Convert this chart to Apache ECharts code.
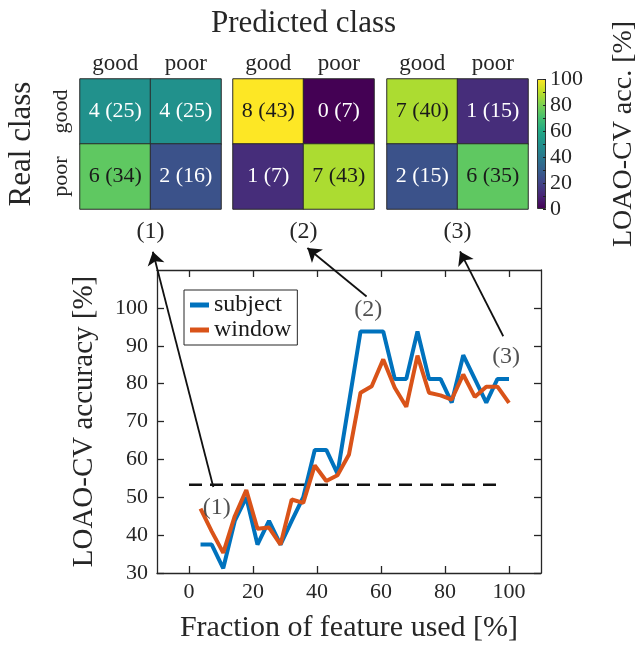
<!DOCTYPE html>
<html>
<head>
<meta charset="utf-8">
<script src="https://cdn.jsdelivr.net/npm/echarts@6/dist/echarts.min.js"></script>
<style>html,body{margin:0;padding:0;background:#fff}#c{width:639px;height:645px}</style>
</head>
<body>
<div id="c"></div>
<script>
// ---------- data ----------
const predClasses = ['good', 'poor'];
const realClasses = ['good', 'poor'];
const matrixNames = ['(1)', '(2)', '(3)'];
// order: [real good/pred good, real good/pred poor, real poor/pred good, real poor/pred poor]
const matrixCounts = [[4, 4, 6, 2], [8, 0, 1, 7], [7, 1, 2, 6]];
const matrixPercents = [[25, 25, 34, 16], [43, 7, 7, 43], [40, 15, 15, 35]];
const subjectsPerClass = 8;

const featureFraction = [3.6, 7.1, 10.7, 14.3, 17.9, 21.4, 25.0, 28.6, 32.1, 35.7, 39.3, 42.9, 46.4, 50.0,
  53.6, 57.1, 60.7, 64.3, 67.9, 71.4, 75.0, 78.6, 82.1, 85.7, 89.3, 92.9, 96.4, 100];
const subjectAcc = [37.5, 37.5, 31.25, 43.75, 50, 37.5, 43.75, 37.5, 43.75, 50, 62.5, 62.5, 56.25, 75,
  93.75, 93.75, 93.75, 81.25, 81.25, 93.75, 81.25, 81.25, 75, 87.5, 81.25, 75, 81.25, 81.25];
const windowAcc = [47.0, 41.0, 35.3, 45.0, 51.9, 41.7, 42.0, 37.5, 49.4, 48.5, 58.4, 54.3, 55.8, 61.3,
  77.6, 79.3, 86.4, 78.9, 73.9, 87.4, 77.6, 76.9, 75.8, 82.4, 76.5, 79.2, 79.2, 74.9];
const chanceX = [0, 97];
const chanceLevel = 53.3;

const annotLabels = ['(1)', '(2)', '(3)'];
const annotX = [8.7, 56.0, 99.1];
const annotY = [47.2, 99.6, 87.1];
const arrowFrom = [[7.6, 52.7], [55.5, 103.0], [98.2, 92.5]];
const arrowTo = [[-11.3, 114.8], [37.0, 115.8], [84.7, 114.9]];

const xTicks = [0, 20, 40, 60, 80, 100];
const yTicks = [30, 40, 50, 60, 70, 80, 90, 100];
const cbLabels = [0, 20, 40, 60, 80, 100];
const cbTicks = [0, 10, 20, 30, 40, 50, 60, 70, 80, 90, 100];

// ---------- styles ----------
const FONT = 'Liberation Serif';
const INK = '#262626';
const viridis = ['#440154', '#482576', '#414487', '#355f8d', '#2a788e', '#21918c', '#22a884', '#44bf70', '#7ad151', '#bddf26', '#fde725'];

const chart = echarts.init(document.getElementById('c'), null, {renderer: 'canvas'});

const grids = [];
const xAxes = [];
const yAxes = [];
const series = [];
const hmLeft = [80, 233, 387];

for (let i = 0; i < 3; i++) {
  grids.push({left: hmLeft[i], top: 79, width: 141, height: 130});
  xAxes.push({
    gridIndex: i, type: 'category', data: predClasses, position: 'top',
    axisLine: {show: false}, axisTick: {show: false},
    axisLabel: {fontSize: 23, margin: 4, color: INK, fontFamily: FONT},
    name: i === 1 ? 'Predicted class' : '', nameLocation: 'middle', nameGap: 40,
    nameTextStyle: {fontSize: 31, color: INK, fontFamily: FONT}
  });
  yAxes.push({
    gridIndex: i, type: 'category', data: realClasses, inverse: true,
    axisLine: {show: false}, axisTick: {show: false},
    axisLabel: {show: i === 0, rotate: 90, fontSize: 22, margin: 8, color: INK, fontFamily: FONT},
    name: i === 0 ? 'Real class' : '', nameLocation: 'middle', nameRotate: 90, nameGap: 43,
    nameTextStyle: {fontSize: 31, color: INK, fontFamily: FONT}
  });
}
for (let i = 0; i < 3; i++) {
  xAxes.push({
    gridIndex: i, type: 'category', data: predClasses, position: 'bottom',
    axisLine: {show: false}, axisTick: {show: false}, axisLabel: {show: false},
    name: matrixNames[i], nameLocation: 'middle', nameGap: 11,
    nameTextStyle: {fontSize: 24, color: INK, fontFamily: FONT, verticalAlign: 'top'}
  });
}
for (let i = 0; i < 3; i++) {
  const data = [];
  for (let r = 0; r < 2; r++) {
    for (let c = 0; c < 2; c++) {
      const k = r * 2 + c;
      const v = matrixCounts[i][k] / subjectsPerClass * 100;
      data.push({
        value: [c, r, v],
        label: {color: v >= 70 ? '#1a1a1a' : '#ffffff'}
      });
    }
  }
  series.push({
    type: 'heatmap', xAxisIndex: i, yAxisIndex: i, data: data,
    itemStyle: {borderColor: '#2b2b2b', borderWidth: 1},
    label: {
      show: true, fontSize: 22, fontFamily: FONT,
      formatter: (p) => {
        const k = p.value[1] * 2 + p.value[0];
        return matrixCounts[i][k] + ' (' + matrixPercents[i][k] + ')';
      }
    },
    emphasis: {disabled: true}, silent: true
  });
}

// colorbar grid (index 3)
grids.push({left: 537, top: 79, width: 14, height: 130});
const cbX = xAxes.length;
xAxes.push({gridIndex: 3, type: 'category', data: [''], show: false});
const cbY = yAxes.length;
yAxes.push({
  gridIndex: 3, type: 'value', min: 0, max: 100, position: 'right', z: 10,
  axisLine: {show: false},
  axisTick: {show: true, inside: true, length: 3, customValues: cbTicks, lineStyle: {color: '#222', width: 1}},
  axisLabel: {customValues: cbLabels, fontSize: 22, margin: 4, color: INK, fontFamily: FONT},
  splitLine: {show: false},
  name: 'LOAO-CV acc. [%]', nameLocation: 'middle', nameRotate: 90, nameGap: 64,
  nameTextStyle: {fontSize: 28, color: INK, fontFamily: FONT, padding: [0, 0, 0, 20]}
});
series.push({
  type: 'bar', xAxisIndex: cbX, yAxisIndex: cbY, data: [100], barWidth: '100%', silent: true,
  itemStyle: {
    borderColor: '#333', borderWidth: 1,
    color: new echarts.graphic.LinearGradient(0, 1, 0, 0,
      viridis.map((c, j) => ({offset: j / (viridis.length - 1), color: c})))
  }
});

// line chart grid (index 4)
grids.push({left: 157, top: 270, width: 384, height: 303});
const axisLineStyle = {color: INK, width: 1.3};
const lx = xAxes.length;
xAxes.push({
  gridIndex: 4, type: 'value', min: -10, max: 110, position: 'bottom',
  axisLine: {show: true, onZero: false, lineStyle: axisLineStyle},
  axisTick: {show: true, inside: true, length: 7, customValues: xTicks, lineStyle: axisLineStyle},
  axisLabel: {customValues: xTicks, fontSize: 22, margin: 8, color: INK, fontFamily: FONT},
  splitLine: {show: false},
  name: 'Fraction of feature used [%]', nameLocation: 'middle', nameGap: 40,
  nameTextStyle: {fontSize: 30, color: INK, fontFamily: FONT}
});
xAxes.push({
  gridIndex: 4, type: 'value', min: -10, max: 110, position: 'top',
  axisLine: {show: true, onZero: false, lineStyle: axisLineStyle},
  axisTick: {show: true, inside: true, length: 7, customValues: xTicks, lineStyle: axisLineStyle},
  axisLabel: {show: false}, splitLine: {show: false}
});
const ly = yAxes.length;
yAxes.push({
  gridIndex: 4, type: 'value', min: 30, max: 110, position: 'left',
  axisLine: {show: true, onZero: false, lineStyle: axisLineStyle},
  axisTick: {show: true, inside: true, length: 7, customValues: yTicks, lineStyle: axisLineStyle},
  axisLabel: {customValues: yTicks, fontSize: 22, margin: 9, color: INK, fontFamily: FONT},
  splitLine: {show: false},
  name: 'LOAO-CV accuracy [%]', nameLocation: 'middle', nameRotate: 90, nameGap: 58,
  nameTextStyle: {fontSize: 29, color: INK, fontFamily: FONT}
});
yAxes.push({
  gridIndex: 4, type: 'value', min: 30, max: 110, position: 'right',
  axisLine: {show: true, onZero: false, lineStyle: axisLineStyle},
  axisTick: {show: true, inside: true, length: 7, customValues: yTicks, lineStyle: axisLineStyle},
  axisLabel: {show: false}, splitLine: {show: false}
});

series.push({
  name: 'chance', type: 'line', xAxisIndex: lx, yAxisIndex: ly, symbol: 'none', silent: true,
  data: chanceX.map(x => [x, chanceLevel]),
  lineStyle: {color: '#111', width: 2.5, type: [13, 8]}, z: 2
});
series.push({
  name: 'subject', type: 'line', xAxisIndex: lx, yAxisIndex: ly, symbol: 'none',
  data: featureFraction.map((x, j) => [x, subjectAcc[j]]),
  lineStyle: {color: '#0072BD', width: 4}, itemStyle: {color: '#0072BD'}, z: 3
});
series.push({
  name: 'window', type: 'line', xAxisIndex: lx, yAxisIndex: ly, symbol: 'none',
  data: featureFraction.map((x, j) => [x, windowAcc[j]]),
  lineStyle: {color: '#D95319', width: 4}, itemStyle: {color: '#D95319'}, z: 4
});
series.push({
  type: 'scatter', xAxisIndex: lx, yAxisIndex: ly, symbolSize: 0, silent: true,
  data: annotX.map((x, j) => ({value: [x, annotY[j]], name: annotLabels[j]})),
  label: {show: true, position: 'inside', formatter: '{b}', fontSize: 24, color: INK, fontFamily: FONT}, z: 5
});
series.push({
  type: 'lines', coordinateSystem: 'cartesian2d', xAxisIndex: lx, yAxisIndex: ly, clip: false, silent: true,
  symbol: ['none', 'arrow'], symbolSize: [9, 13],
  lineStyle: {color: '#111', width: 1.8, opacity: 1},
  data: arrowFrom.map((f, j) => ({coords: [f, arrowTo[j]]})), z: 6
});

const option = {
  backgroundColor: '#ffffff',
  animation: false,
  textStyle: {fontFamily: FONT},
  grid: grids,
  xAxis: xAxes,
  yAxis: yAxes,
  visualMap: {
    type: 'continuous', show: false, min: 0, max: 100, dimension: 2, seriesIndex: [0, 1, 2],
    inRange: {color: viridis}
  },
  legend: {
    data: ['subject', 'window'], orient: 'vertical', left: 184, top: 290,
    icon: 'rect', itemWidth: 19, itemHeight: 5, itemGap: 1,
    padding: [3, 6, 3, 6], borderColor: INK, borderWidth: 1, backgroundColor: '#fff',
    textStyle: {fontSize: 24, lineHeight: 24, color: '#1a1a1a', fontFamily: FONT},
    selectedMode: false
  },
  series: series
};
chart.setOption(option);
</script>
</body>
</html>
